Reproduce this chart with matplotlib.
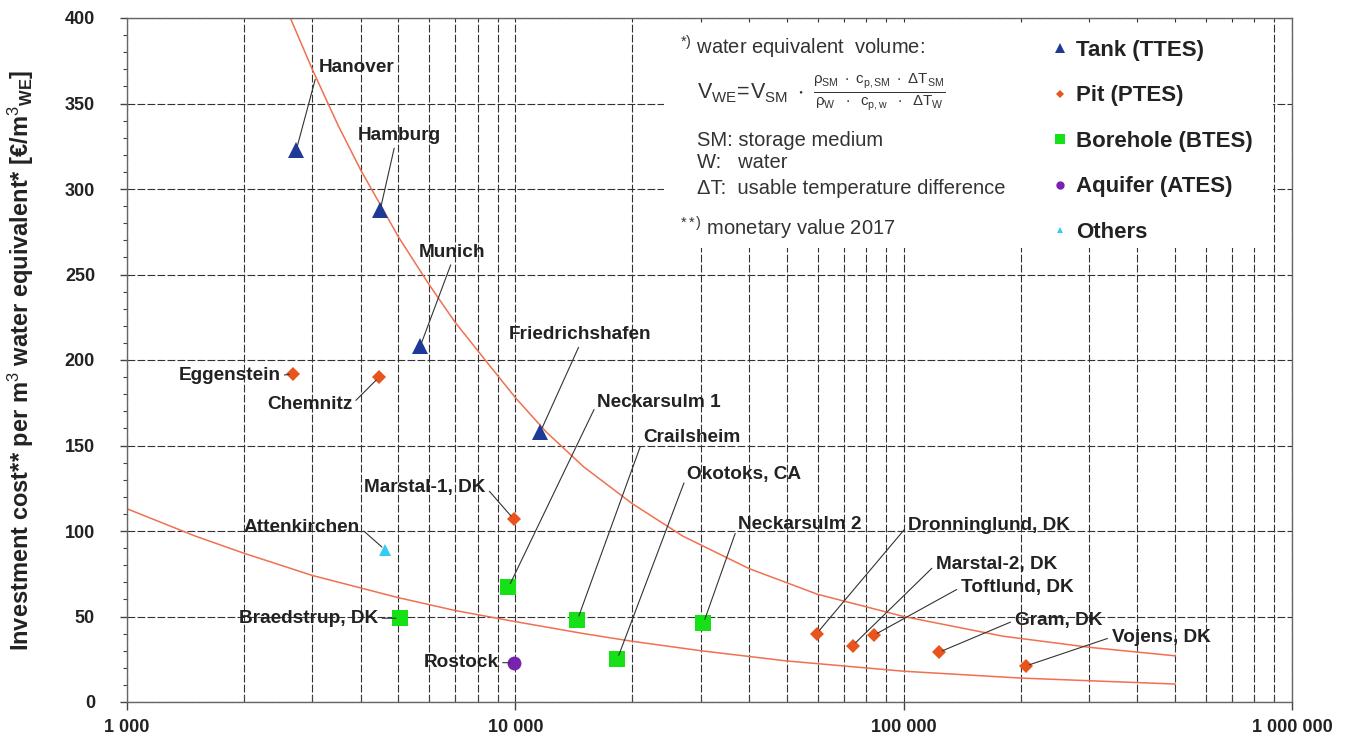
import matplotlib
matplotlib.use('Agg')
import matplotlib.pyplot as plt
from matplotlib.patches import Rectangle
from matplotlib.ticker import FixedLocator, FuncFormatter, MultipleLocator, NullFormatter

plt.rcParams['font.family'] = ['Liberation Sans', 'DejaVu Sans']
plt.rcParams['mathtext.fontset'] = 'custom'
plt.rcParams['mathtext.rm'] = 'Liberation Sans'
plt.rcParams['mathtext.it'] = 'Liberation Sans:italic'
plt.rcParams['mathtext.bf'] = 'Liberation Sans:bold'

# Storage volume [m3 water equivalent] and investment cost [EUR/m3]
TANK_NAMES = ['Hanover', 'Hamburg', 'Munich', 'Friedrichshafen']
TANK_VOL = [2730, 4490, 5690, 11600]
TANK_COST = [323, 288, 208, 158]

PIT_NAMES = ['Eggenstein', 'Chemnitz', 'Marstal-1, DK', 'Dronninglund, DK',
             'Marstal-2, DK', 'Toftlund, DK', 'Gram, DK', 'Vojens, DK']
PIT_VOL = [2680, 4460, 9900, 59700, 73900, 83700, 123000, 206000]
PIT_COST = [192, 190, 107, 40, 33, 39, 29, 21]

BORE_NAMES = ['Braedstrup, DK', 'Neckarsulm 1', 'Crailsheim', 'Okotoks, CA', 'Neckarsulm 2']
BORE_VOL = [5050, 9600, 14450, 18300, 30500]
BORE_COST = [49, 67, 48, 25, 46]

AQ_NAMES = ['Rostock']
AQ_VOL = [9950]
AQ_COST = [23]

OTHER_NAMES = ['Attenkirchen']
OTHER_VOL = [4620]
OTHER_COST = [89]

# trend curves
UPPER_X = [2600, 3000, 3500, 4000, 5000, 6000, 7000, 8500, 10000, 12000, 15000, 20000,
           27000, 40000, 60000, 100000, 180000, 300000, 500000]
UPPER_Y = [403, 370, 337, 311, 272, 244, 222, 198, 178, 158, 137.5, 116,
           97, 78, 63, 50, 38.5, 32, 27]
LOWER_X = [1000, 1500, 2000, 3000, 5000, 7000, 10000, 15000, 20000, 30000, 50000,
           100000, 200000, 500000]
LOWER_Y = [113, 97, 87, 74, 61, 53.5, 47, 40, 35.5, 30, 24, 18, 14, 10.5]

X_TICKS = [1000, 10000, 100000, 1000000]

# label placement: offset in pixels from marker, text alignment, leader anchor on text
LABEL_POS = {
    'Hanover': (22, 82, 'left', (0, 0.5)),
    'Hamburg': (19, 74, 'center', (0.45, 0)),
    'Munich': (32, 94, 'center', (0.5, 0)),
    'Friedrichshafen': (40, 97, 'center', (0.5, 0)),
    'Eggenstein': (-13, -2, 'right', (1, 0.5)),
    'Chemnitz': (-27, -27, 'right', (1, 0.5)),
    'Marstal-1, DK': (-28, 32, 'right', (1, 0.5)),
    'Dronninglund, DK': (91, 108, 'left', (0, 0.5)),
    'Marstal-2, DK': (83, 81, 'left', (0, 0.5)),
    'Toftlund, DK': (87, 48, 'left', (0, 0.5)),
    'Gram, DK': (76, 32, 'left', (0, 0.5)),
    'Vojens, DK': (86, 29, 'left', (0, 0.5)),
    'Braedstrup, DK': (-22, 0, 'right', (1, 0.5)),
    'Neckarsulm 1': (89, 185, 'left', (0, 0.5)),
    'Crailsheim': (66, 182, 'left', (0, 0.5)),
    'Okotoks, CA': (70, 185, 'left', (0, 0.5)),
    'Neckarsulm 2': (35, 99, 'left', (0, 0.5)),
    'Rostock': (-16, 0, 'right', (1, 0.5)),
    'Attenkirchen': (-25, 22, 'right', (1, 0.5)),
}

W, H = 1355, 742
fig = plt.figure(figsize=(W / 100, H / 100), dpi=100)
ax = fig.add_axes([127 / W, 40 / H, (1292 - 127) / W, (702 - 18) / H])
ax.set_xscale('log')
ax.set_xlim(1000, 1000000)
ax.set_ylim(0, 400)

# grid
grid_kw = dict(color='#333333', lw=0.8, linestyle=(0, (7, 2)))
ax.xaxis.set_major_locator(FixedLocator(X_TICKS))
ax.xaxis.set_minor_locator(FixedLocator([m * d for d in (1000, 10000, 100000) for m in range(2, 10)]))
ax.xaxis.set_major_formatter(FuncFormatter(lambda v, p: f'{int(v):,}'.replace(',', ' ')))
ax.xaxis.set_minor_formatter(NullFormatter())
ax.yaxis.set_major_locator(MultipleLocator(50))
ax.yaxis.set_minor_locator(MultipleLocator(10))
ax.grid(True, which='both', axis='x', **grid_kw)
ax.grid(True, which='major', axis='y', **grid_kw)
ax.set_axisbelow(True)

for s in ax.spines.values():
    s.set_color('#666666')
    s.set_linewidth(1)

ax.tick_params(axis='x', which='major', direction='out', length=6, width=1, color='#444',
               pad=6, labelsize=13)
ax.tick_params(axis='x', which='minor', direction='in', length=5, width=0.8, color='#444')
ax.tick_params(axis='y', which='major', direction='out', length=5, width=1, color='#444',
               pad=18, labelsize=13)
ax.tick_params(axis='y', which='minor', direction='out', length=3, width=0.8, color='#444')
for lab in ax.get_xticklabels() + ax.get_yticklabels():
    lab.set_fontweight('bold')
    lab.set_color('#222222')

ax.set_ylabel(r'Investment cost** per m$^3$ water equivalent* [€/m$^3$$\mathregular{_{WE}}$]',
              fontsize=17, fontweight='bold', color='#222222')
ax.yaxis.set_label_coords(-91 / (1292 - 127), 0.5)

# white note box hiding the grid
ax.add_patch(Rectangle((664 / W, 1 - 248 / H), (1273 - 664) / W, (248 - 24) / H,
                       transform=fig.transFigure, facecolor='white', edgecolor='none', zorder=1.5))

# trend curves
ax.plot(UPPER_X, UPPER_Y, color='#f07050', lw=1.1, zorder=2)
ax.plot(LOWER_X, LOWER_Y, color='#f07050', lw=1.1, zorder=2)

series = [
    ('Tank (TTES)', TANK_NAMES, TANK_VOL, TANK_COST, '^', '#1f3a96', 12),
    ('Pit (PTES)', PIT_NAMES, PIT_VOL, PIT_COST, 'D', '#e8541c', 7.5),
    ('Borehole (BTES)', BORE_NAMES, BORE_VOL, BORE_COST, 's', '#16e016', 11),
    ('Aquifer (ATES)', AQ_NAMES, AQ_VOL, AQ_COST, 'o', '#7a22b0', 10),
    ('Others', OTHER_NAMES, OTHER_VOL, OTHER_COST, '^', '#33ccf0', 8),
]

handles = []
for label, names, xs, ys, mk, col, ms in series:
    h, = ax.plot(xs, ys, linestyle='none', marker=mk, color=col, markersize=ms,
                 markeredgewidth=0, label=label, zorder=4)
    handles.append(h)
    for n, x, y in zip(names, xs, ys):
        dx, dy, ha, rel = LABEL_POS[n]
        ax.annotate(n, xy=(x, y), xytext=(dx, dy), textcoords='offset pixels',
                    ha=ha, va='center', fontsize=13.7, fontweight='bold', color='#222222',
                    arrowprops=dict(arrowstyle='-', color='#333333', lw=0.8, relpos=rel,
                                    shrinkA=1, shrinkB=3), zorder=5)

leg = ax.legend(handles=handles, loc='upper left', bbox_to_anchor=(1053 / W, 1 - 40 / H),
                bbox_transform=fig.transFigure, frameon=False, markerscale=0.6,
                handlelength=0.6, handletextpad=0.45, labelspacing=1.1, borderpad=0,
                borderaxespad=0, prop={'weight': 'bold', 'size': 16})
for t in leg.get_texts():
    t.set_color('#222222')

# note text
note_kw = dict(fontsize=14.5, color='#333333', va='center', ha='left')
fig.text(680 / W, 1 - 47 / H, r'$^{*)}$ water equivalent  volume:', **note_kw)
fig.text(697 / W, 1 - 92 / H,
         r'$\mathregular{V_{WE}\!=\!V_{SM}\ \cdot\ \frac{\rho_{SM}\ \cdot\ c_{p,SM}\ \cdot\ \Delta T_{SM}}'
         r'{\rho_{W}\ \ \cdot\ \ c_{p,w}\ \ \cdot\ \ \Delta T_{W}}}$',
         fontsize=15.5, color='#333333', va='center', ha='left')
fig.text(697 / W, 1 - 141 / H, 'SM: storage medium', **note_kw)
fig.text(697 / W, 1 - 163 / H, 'W:   water', **note_kw)
fig.text(697 / W, 1 - 188 / H, 'ΔT:  usable temperature difference', **note_kw)
fig.text(680 / W, 1 - 228 / H, r'$^{**)}$ monetary value 2017', **note_kw)

fig.savefig('out.png', dpi=100)
